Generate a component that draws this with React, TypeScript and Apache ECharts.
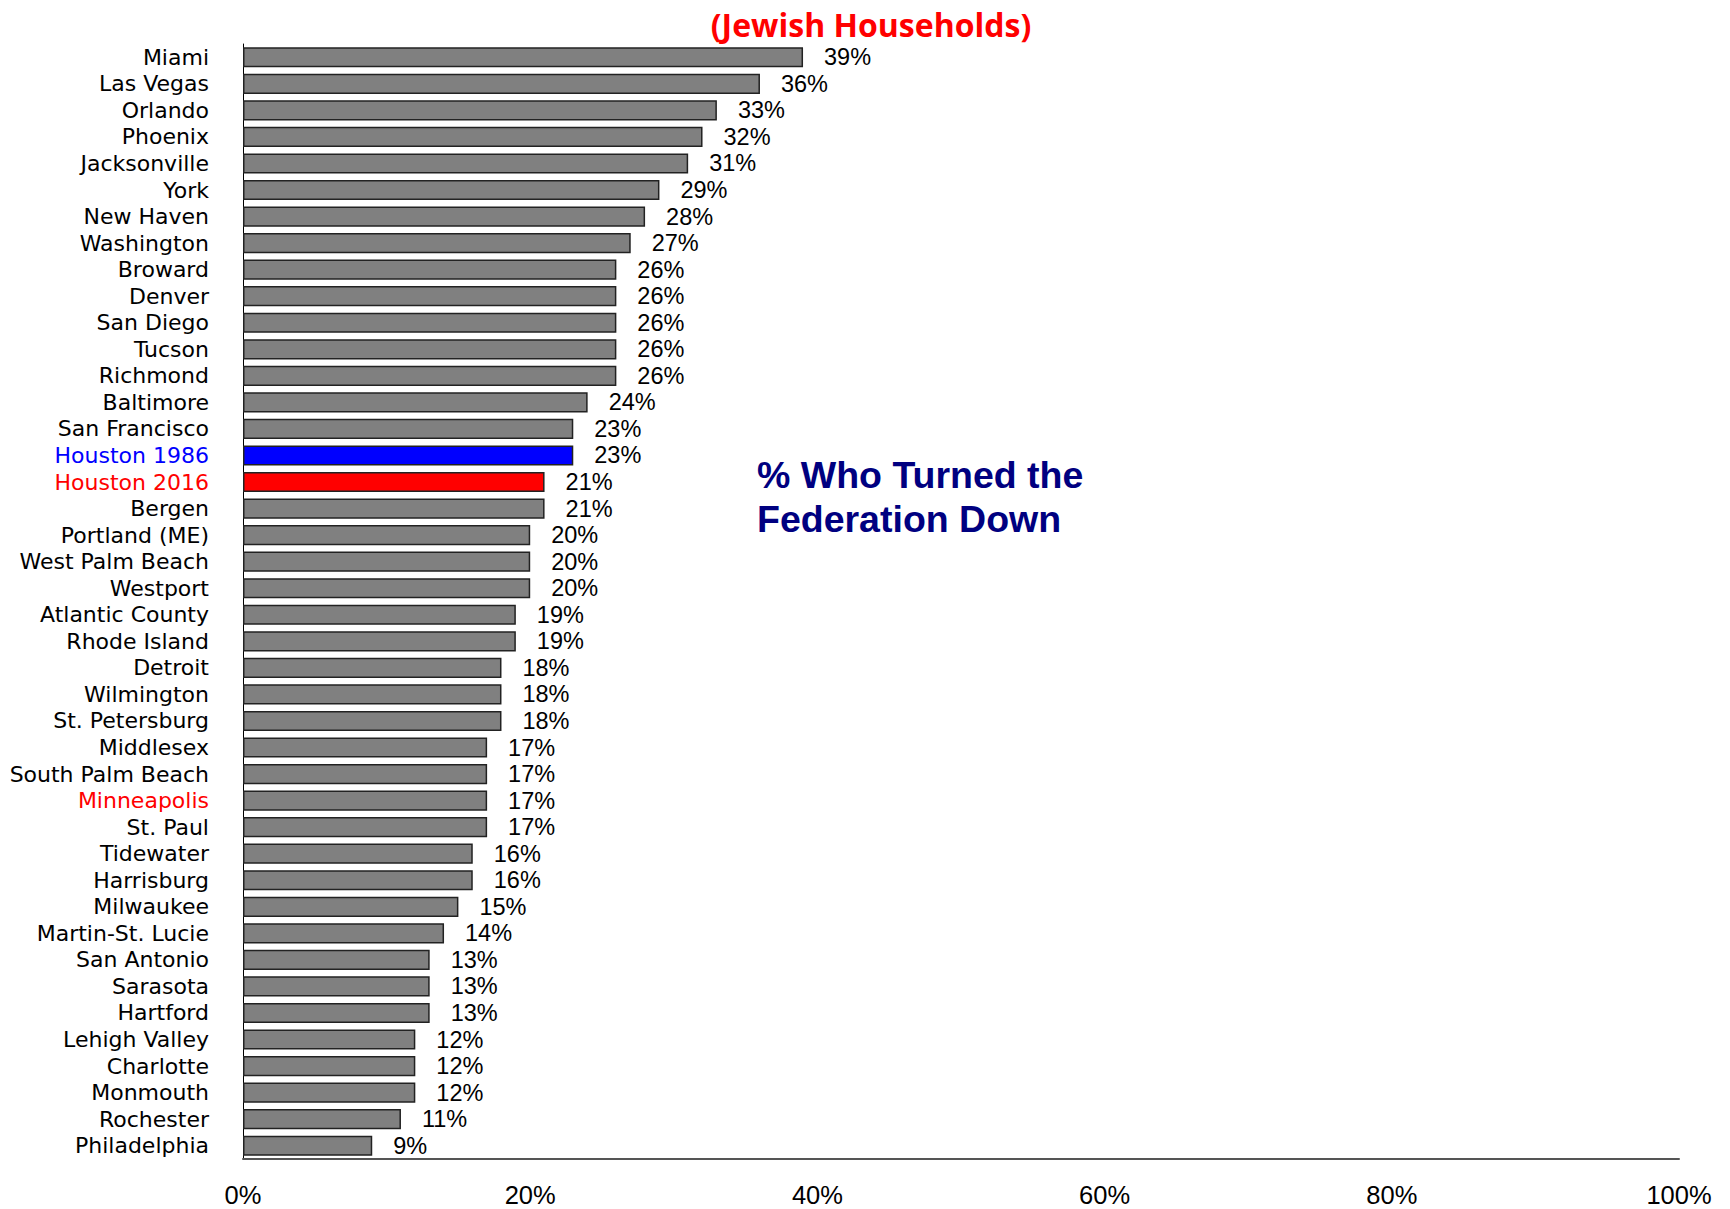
import React, { useEffect, useRef } from "react";
import * as echarts from "echarts";

const categories = [
  "Miami", "Las Vegas", "Orlando", "Phoenix", "Jacksonville", "York", "New Haven",
  "Washington", "Broward", "Denver", "San Diego", "Tucson", "Richmond", "Baltimore",
  "San Francisco", "Houston 1986", "Houston 2016", "Bergen", "Portland (ME)",
  "West Palm Beach", "Westport", "Atlantic County", "Rhode Island", "Detroit",
  "Wilmington", "St. Petersburg", "Middlesex", "South Palm Beach", "Minneapolis",
  "St. Paul", "Tidewater", "Harrisburg", "Milwaukee", "Martin-St. Lucie",
  "San Antonio", "Sarasota", "Hartford", "Lehigh Valley", "Charlotte", "Monmouth",
  "Rochester", "Philadelphia",
];

const values = [
  0.39, 0.36, 0.33, 0.32, 0.31, 0.29, 0.28, 0.27, 0.26, 0.26, 0.26, 0.26, 0.26, 0.24,
  0.23, 0.23, 0.21, 0.21, 0.20, 0.20, 0.20, 0.19, 0.19, 0.18, 0.18, 0.18, 0.17, 0.17,
  0.17, 0.17, 0.16, 0.16, 0.15, 0.14, 0.13, 0.13, 0.13, 0.12, 0.12, 0.12, 0.11, 0.09,
];

const xTicks = [0, 0.2, 0.4, 0.6, 0.8, 1.0];

const barColors: Record<string, string> = {
  "Houston 1986": "#0000FF",
  "Houston 2016": "#FF0000",
};
const labelColors: Record<string, string> = {
  "Houston 1986": "#0000FF",
  "Houston 2016": "#FF0000",
  Minneapolis: "#FF0000",
};

const title = "(Jewish Households)";
const annotation = "% Who Turned the\nFederation Down";

export default function App() {
  const ref = useRef<HTMLDivElement>(null);
  useEffect(() => {
    if (!ref.current) return;
    const chart = echarts.init(ref.current, undefined, { renderer: "svg" });
    const catFont = { fontFamily: "'DejaVu Sans'", fontSize: 22, lineHeight: 24 };
    const richStyles: Record<string, any> = {
      k: { color: "#000000", ...catFont },
      b: { color: "#0000FF", ...catFont },
      r: { color: "#FF0000", ...catFont },
    };
    chart.setOption({
      animation: false,
      backgroundColor: "#ffffff",
      grid: { left: 243, right: 51, top: 44, bottom: 50, containLabel: false },
      xAxis: {
        type: "value",
        min: 0,
        max: 1,
        interval: 0.2,
        axisLine: { show: true, lineStyle: { color: "#555555", width: 2 } },
        axisTick: { show: false },
        splitLine: { show: false },
        axisLabel: {
          margin: 23,
          fontFamily: "Liberation Sans, Arial",
          fontSize: 25.5,
          color: "#000000",
          formatter: (v: number) =>
            xTicks.some((t) => Math.abs(t - v) < 1e-9) ? `${Math.round(v * 100)}%` : "",
        },
      },
      yAxis: {
        type: "category",
        data: categories,
        inverse: true,
        axisLine: { show: true, lineStyle: { color: "#000000", width: 1 } },
        axisTick: { show: false },
        axisLabel: {
          margin: 34,
          lineHeight: 24,
          formatter: (v: string) => {
            const c = labelColors[v];
            const key = c === "#0000FF" ? "b" : c === "#FF0000" ? "r" : "k";
            return `{${key}|${v}}`;
          },
          rich: richStyles,
        },
      },
      series: [
        {
          type: "bar",
          data: categories.map((c, i) => ({
            value: values[i],
            itemStyle: {
              color: barColors[c] || "#808080",
              borderColor: "#222222",
              borderWidth: 1.5,
            },
          })),
          barCategoryGap: "24%",
          label: {
            show: true,
            position: "right",
            distance: 21,
            fontFamily: "Liberation Sans, Arial",
            fontSize: 23.5,
            lineHeight: 24,
            color: "#000000",
            formatter: (p: any) => `${Math.round(p.value * 100)}%`,
          },
        },
      ],
      graphic: [
        {
          type: "text",
          x: 871,
          y: 24,
          style: {
            text: title,
            fill: "#FF0000",
            font: "bold 32px 'Open Sans'",
            textAlign: "center",
            textVerticalAlign: "middle",
          },
        },
        {
          type: "text",
          x: 757,
          y: 453,
          style: {
            text: annotation,
            fill: "#000080",
            font: "bold 37.5px 'Liberation Sans', Arial",
            lineHeight: 44,
            textAlign: "left",
            textVerticalAlign: "top",
          },
        },
      ],
    });
    return () => chart.dispose();
  }, []);
  return (
    <div
      ref={ref}
      style={{ position: "absolute", left: 0, top: 0, width: 1730, height: 1209 }}
    />
  );
}
